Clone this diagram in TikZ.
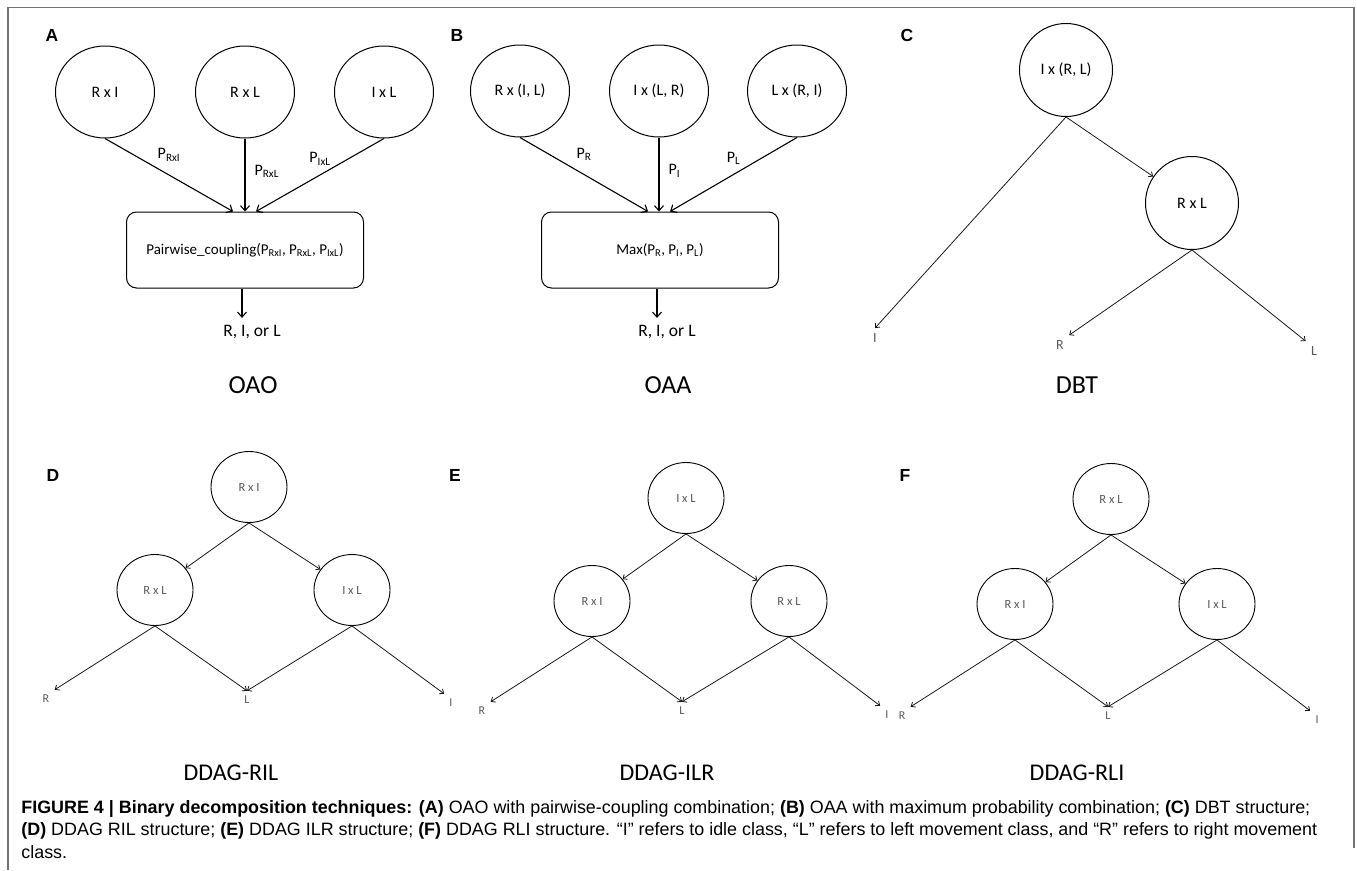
\documentclass[tikz,border=0pt]{standalone}
\usepackage{fontspec}
\setmainfont{Carlito}
\newfontfamily\capfont{Liberation Sans}
\usetikzlibrary{shapes.geometric,positioning,arrows.meta}
\begin{document}
\begin{tikzpicture}[x=1pt, y=-1pt, line width=0.8pt,
  bigcirc/.style={ellipse, draw, line width=1pt, minimum width=99pt, minimum height=92pt, inner sep=0pt, font=\fontsize{16}{18}\selectfont},
  midcirc/.style={ellipse, draw, line width=1pt, minimum width=93pt, minimum height=93pt, inner sep=0pt, font=\fontsize{16}{18}\selectfont},
  smallcirc/.style={ellipse, draw, line width=0.9pt, minimum width=76pt, minimum height=71pt, inner sep=0pt, text=black!65, font=\fontsize{12.5}{14}\selectfont},
  combo/.style={rectangle, draw, rounded corners=10pt, line width=1pt, minimum width=237pt, minimum height=76pt, font=\fontsize{15}{18}\selectfont},
  leaf/.style={inner sep=5pt, text=black!65, font=\fontsize{12}{14}\selectfont},
  plabel/.style={inner sep=1pt, font=\fontsize{16}{18}\selectfont},
  heavy/.style={-{Straight Barb[length=5pt, width=9pt]}, line width=1.1pt},
  light/.style={-{Straight Barb[length=3.5pt, width=6pt]}, line width=0.8pt, draw=black!90},
  caption/.style={font=\fontsize{26}{30}\selectfont},
  panel/.style={font=\capfont\bfseries\fontsize{17.5}{20}\selectfont}]
\useasboundingbox (0,0) rectangle (1357,870);
% Marco
\draw[black!55, line width=1.2pt] (8,870) -- (8,7.5) -- (1354,7.5) -- (1354,848);
% ---
% A
% ---
\node[panel] (labA) at (52,35) {A};
\node[bigcirc] (a1) at (105,92) {R x I};
\node[bigcirc] (a2) at (245,92) {R x L};
\node[bigcirc] (a3) at (384,92) {I x L};
\node[combo] (pc) at (245,250) {Pairwise\_coupling(P\textsubscript{RxI}, P\textsubscript{RxL}, P\textsubscript{IxL})};
\node[plabel, font=\fontsize{17.5}{20}\selectfont] (outA) at (252,332) {R, I, or L};
\node[caption] (oao) at (253,385) {OAO};
\path (a1.south) edge [heavy] node [plabel, pos=0.5, above=12pt] {P\textsubscript{RxI}} ([xshift=-12pt]pc.north);
\path (a2.south) edge [heavy] node [plabel, pos=0.45, right=8pt] {P\textsubscript{RxL}} (pc.north);
\path (a3.south) edge [heavy] node [plabel, pos=0.5, above=8pt] {P\textsubscript{IxL}} ([xshift=11pt]pc.north);
\draw[heavy] ([xshift=-3pt]pc.south) -- ([xshift=-3pt, yshift=6pt]pc.south |- outA.north);
% ---
% B
% ---
\node[panel] (labB) at (457,35) {B};
\node[bigcirc] (b1) at (520,91) {R x (I, L)};
\node[bigcirc] (b2) at (659,91) {I x (L, R)};
\node[bigcirc] (b3) at (797,91) {L x (R, I)};
\node[combo] (mx) at (660,250) {Max(P\textsubscript{R}, P\textsubscript{I}, P\textsubscript{L})};
\node[plabel, font=\fontsize{17.5}{20}\selectfont] (outB) at (667,332) {R, I, or L};
\node[caption] (oaa) at (668,385) {OAA};
\path (b1.south) edge [heavy] node [plabel, pos=0.5, above=12pt] {P\textsubscript{R}} ([xshift=-12pt]mx.north);
\path (b2.south) edge [heavy] node [plabel, pos=0.45, right=8pt] {P\textsubscript{I}} ([xshift=-1pt]mx.north);
\path (b3.south) edge [heavy] node [plabel, pos=0.5, above=8pt] {P\textsubscript{L}} ([xshift=10pt]mx.north);
\draw[heavy] ([xshift=-3pt]mx.south) -- ([xshift=-3pt, yshift=6pt]mx.south |- outB.north);
% ---
% C
% ---
\node[panel] (labC) at (907,35) {C};
\node[midcirc] (c1) at (1066,70) {I x (R, L)};
\node[midcirc] (c2) at (1192,203) {R x L};
\node[leaf, font=\fontsize{14}{16}\selectfont] (cI) at (875,338) {I};
\node[leaf, font=\fontsize{14}{16}\selectfont] (cR) at (1060,345) {R};
\node[leaf, font=\fontsize{14}{16}\selectfont] (cL) at (1314,351) {L};
\node[caption] (dbt) at (1077,385) {DBT};
\path (c1.south) edge [light] (c2);
\path (c1.south) edge [light] (cI.north);
\path (c2.south) edge [light] (cR.north east);
\path (c2.south) edge [light] (cL.north west);
% ---
% D
% ---
\node[panel] (labD) at (53,475) {D};
\node[smallcirc] (d1) at (249,487) {R x I};
\node[smallcirc] (d2) at (155,590) {R x L};
\node[smallcirc] (d3) at (352,590) {I x L};
\node[leaf] (dR) at (46,699) {R};
\node[leaf] (dL) at (247,700) {L};
\node[leaf] (dI) at (451,703) {I};
\node[caption, font=\fontsize{24}{28}\selectfont] (ril) at (231,773) {DDAG-RIL};
\path (d1.south) edge [light] (d2);
\path (d1.south) edge [light] (d3);
\path (d2.south) edge [light] (dR.north east);
\path (d2.south) edge [light] (dL.north);
\path (d3.south) edge [light] (dL.north);
\path (d3.south) edge [light] (dI.north west);
% ---
% E
% ---
\node[panel] (labE) at (455,475) {E};
\node[smallcirc] (e1) at (686,498) {I x L};
\node[smallcirc] (e2) at (592,601) {R x I};
\node[smallcirc] (e3) at (789,601) {R x L};
\node[leaf] (eR) at (482,711) {R};
\node[leaf] (eL) at (682,711) {L};
\node[leaf] (eI) at (887,715) {I};
\node[caption, font=\fontsize{24}{28}\selectfont] (ilr) at (667,773) {DDAG-ILR};
\path (e1.south) edge [light] (e2);
\path (e1.south) edge [light] (e3);
\path (e2.south) edge [light] (eR.north east);
\path (e2.south) edge [light] (eL.north);
\path (e3.south) edge [light] (eL.north);
\path (e3.south) edge [light] (eI.north west);
% ---
% F
% ---
\node[panel] (labF) at (905,475) {F};
\node[smallcirc] (f1) at (1111,499) {R x L};
\node[smallcirc] (f2) at (1015,604) {R x I};
\node[smallcirc] (f3) at (1217,604) {I x L};
\node[leaf] (fR) at (902,716) {R};
\node[leaf] (fL) at (1108,716) {L};
\node[leaf] (fI) at (1317,720) {I};
\node[caption, font=\fontsize{24}{28}\selectfont] (rli) at (1077,773) {DDAG-RLI};
\path (f1.south) edge [light] (f2);
\path (f1.south) edge [light] (f3);
\path (f2.south) edge [light] (fR.north east);
\path (f2.south) edge [light] (fL.north);
\path (f3.south) edge [light] (fL.north);
\path (f3.south) edge [light] (fI.north west);
% Leyenda
\node[anchor=north west, inner sep=0pt, align=left, font=\capfont\fontsize{17.9}{22.5}\selectfont] (legend) at (21,800)
{\textbf{FIGURE 4 | Binary decomposition techniques: (A)} OAO with pairwise-coupling combination; \textbf{(B)} OAA with maximum probability combination; \textbf{(C)} DBT structure;\\
\textbf{(D)} DDAG RIL structure; \textbf{(E)} DDAG ILR structure; \textbf{(F)} DDAG RLI structure. “I” refers to idle class, “L” refers to left movement class, and “R” refers to right movement\\
class.};
\end{tikzpicture}
\end{document}
